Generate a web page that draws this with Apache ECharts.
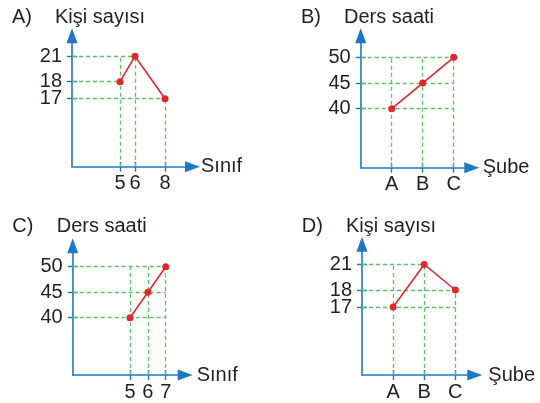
<!DOCTYPE html>
<html><head><meta charset="utf-8">
<script src="https://cdn.jsdelivr.net/npm/echarts@6/dist/echarts.min.js"></script>
<style>html,body{margin:0;padding:0;background:#fff}#c{width:540px;height:403px}</style>
</head><body><div id="c"></div>
<script>
// ---- data ----
const panelLetters = ['A)', 'B)', 'C)', 'D)'];
const yNames = ['Kişi sayısı', 'Ders saati', 'Ders saati', 'Kişi sayısı'];
const xNames = ['Sınıf', 'Şube', 'Sınıf', 'Şube'];

// tick-label slots (schematic, non-proportional axes)
const yCatsAD = ['', '', '', '', '', '', '', '', '17', '', '18', '', '', '21', '', ''];
const xCatsBD = ['', '', 'A', '', 'B', '', 'C', ''];
const xTicksA = [5, 6, 8];
const xTicksC = [5, 6, 7];
const yTicksBC = [40, 45, 50];

const xA = [5, 6, 8];        const yA = [18, 21, 17];
const xB = ['A', 'B', 'C'];  const yB = [40, 45, 50];
const xC = [5, 6, 7];        const yC = [40, 45, 50];
const xD = ['A', 'B', 'C'];  const yD = [17, 21, 18];

// dashed guide lines: horizontal [y, x-end], vertical [x, y-top]
const hA = [[21, 6], [18, 5], [17, 8]];       const vA = [[5, 21], [6, 21], [8, 17]];
const hB = [[50, 'C'], [45, 'C'], [40, 'C']]; const vB = [['A', 50], ['B', 50], ['C', 50]];
const hC = [[50, 7], [45, 7], [40, 7]];       const vC = [[5, 50], [6, 50], [7, 50]];
const hD = [[21, 'B'], [18, 'C'], [17, 'C']]; const vD = [['A', 21], ['B', 21], ['C', 18]];

// ---- style / layout ----
const FONT = '"Liberation Sans", Arial, sans-serif';
const BLUE = '#1f78c4', GREEN = '#5cc266', RED = '#e3262b', TEXT = '#231f20';

const panels = [
  { grid: {left: 72, top: 39.2, width: 120.5, height: 127.5},
    x: {type: 'value', min: 1.8, max: 9.833, ticks: xTicksA, gap: 8.5, off: 0},
    y: {type: 'category', cats: yCatsAD, off: 3.4},
    xs: xA, ys: yA, h: hA, v: vA, title: [12, 17, 55] },
  { grid: {left: 360.7, top: 35.8, width: 108.5, height: 131.9},
    x: {type: 'category', cats: xCatsBD, gap: 13.5, off: 2.6},
    y: {type: 'value', min: 28.5, max: 54.2, ticks: yTicksBC, off: 0},
    xs: xB, ys: yB, h: hB, v: vB, title: [301, 17, 344] },
  { grid: {left: 72.7, top: 245.8, width: 112.5, height: 129.2},
    x: {type: 'value', min: 1.79, max: 8.09, ticks: xTicksC, gap: 11.5, off: 0},
    y: {type: 'value', min: 28.76, max: 54.1, ticks: yTicksBC, off: 0},
    xs: xC, ys: yC, h: hC, v: vC, title: [12.3, 226.5, 56.7] },
  { grid: {left: 362, top: 247.5, width: 108.9, height: 127.5},
    x: {type: 'category', cats: xCatsBD, gap: 17.4, off: 3.9},
    y: {type: 'category', cats: yCatsAD, off: 3.3},
    xs: xD, ys: yD, h: hD, v: vD, title: [301.7, 226, 346] }
];

function tickSel(a) {
  return a.type === 'category'
    ? {interval: function (i, v) { return v !== ''; }}
    : {customValues: a.ticks};
}
function labelSel(a) {
  return a.type === 'category'
    ? {interval: function (i, v) { return i === 0 || v !== ''; },
       formatter: function (v) { return v === '' ? ' ' : v; }}
    : {customValues: a.ticks};
}
function axisPair(dim, p, gi, name) {
  const a = p[dim];
  const base = {gridIndex: gi, type: a.type, position: dim === 'x' ? 'bottom' : 'left', offset: 0};
  if (a.type === 'category') { base.data = a.cats; base.boundaryGap = false; }
  else { base.min = a.min; base.max = a.max; }
  const main = Object.assign({}, base, {
    name: name || '', nameLocation: 'end', nameGap: a.gap || 0,
    nameTextStyle: {color: TEXT, fontSize: 20, fontFamily: FONT},
    axisLine: {show: true, onZero: false, symbol: ['none', 'triangle'], symbolSize: [11, 15],
      symbolOffset: [0, a.off], lineStyle: {color: BLUE, width: 1.6}},
    axisTick: Object.assign({show: true, inside: false, length: 5, lineStyle: {color: BLUE, width: 1.4}}, tickSel(a)),
    axisLabel: Object.assign({show: true, hideOverlap: false, lineHeight: 14,
      color: TEXT, fontSize: 20, fontFamily: FONT, margin: 10}, labelSel(a)),
    splitLine: {show: false}, splitArea: {show: false}
  });
  const inner = Object.assign({}, base, {
    axisLine: {show: false, onZero: false},
    axisTick: Object.assign({show: true, inside: true, length: 5, lineStyle: {color: BLUE, width: 1.4}}, tickSel(a)),
    axisLabel: {show: false}, splitLine: {show: false}, splitArea: {show: false}
  });
  return [main, inner];
}
function toCoord(a, v) {
  return a.type === 'category' ? a.cats.indexOf(String(v)) : v;
}
function origin(a) { return a.type === 'category' ? 0 : a.min; }
function toData(a, v) { return a.type === 'category' ? String(v) : v; }

const grids = [], xAxes = [], yAxes = [], series = [], graphic = [];
panels.forEach(function (p, i) {
  grids.push(Object.assign({outerBoundsMode: 'none', containLabel: false}, p.grid));
  xAxes.push.apply(xAxes, axisPair('x', p, i, xNames[i]));
  yAxes.push.apply(yAxes, axisPair('y', p, i, ''));
  const data = p.xs.map(function (x, k) { return [toData(p.x, x), toData(p.y, p.ys[k])]; });
  const lines = [];
  p.h.forEach(function (g) {
    lines.push([{coord: [origin(p.x), toCoord(p.y, g[0])]}, {coord: [toCoord(p.x, g[1]), toCoord(p.y, g[0])]}]);
  });
  p.v.forEach(function (g) {
    lines.push([{coord: [toCoord(p.x, g[0]), origin(p.y)]}, {coord: [toCoord(p.x, g[0]), toCoord(p.y, g[1])]}]);
  });
  series.push({
    type: 'line', xAxisIndex: 2 * i, yAxisIndex: 2 * i, data: data, z: 1, silent: true,
    symbol: 'none', lineStyle: {opacity: 0},
    markLine: {silent: true, symbol: ['none', 'none'], animation: false, label: {show: false},
      lineStyle: {color: GREEN, type: [4, 3], width: 1.3}, emphasis: {disabled: true}, data: lines}
  });
  series.push({
    type: 'line', xAxisIndex: 2 * i, yAxisIndex: 2 * i, data: data, z: 5,
    symbol: 'circle', symbolSize: 7, itemStyle: {color: RED},
    lineStyle: {color: RED, width: 1.6}
  });
  graphic.push({type: 'text', x: p.title[0], y: p.title[1],
    style: {text: panelLetters[i], fontSize: 20, fontFamily: FONT, fill: TEXT, verticalAlign: 'middle'}});
  graphic.push({type: 'text', x: p.title[2], y: p.title[1],
    style: {text: yNames[i], fontSize: 20, fontFamily: FONT, fill: TEXT, verticalAlign: 'middle'}});
});

const chart = echarts.init(document.getElementById('c'), null, {renderer: 'canvas'});
chart.setOption({
  animation: false, backgroundColor: '#fff',
  grid: grids, xAxis: xAxes, yAxis: yAxes, series: series, graphic: graphic,
  tooltip: {show: false}
});
</script></body></html>
